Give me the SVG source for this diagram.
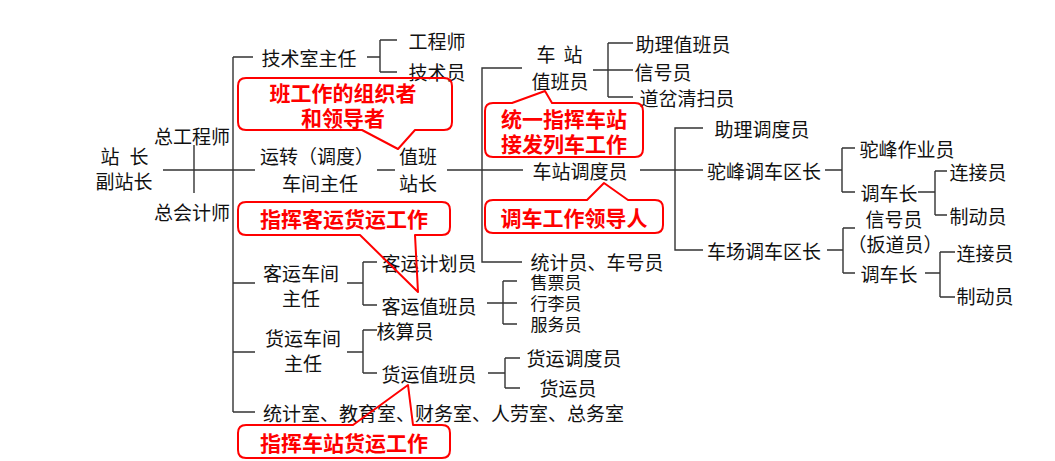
<svg xmlns="http://www.w3.org/2000/svg" width="1055" height="461" viewBox="0 0 1055 461">
<style>
.t{font-family:"Noto Sans CJK SC","Noto Sans",sans-serif;font-size:19px;fill:#111;text-anchor:middle;dominant-baseline:central}
.s{text-anchor:start}
.k{font-size:17px}
.r{font-family:"Noto Sans CJK SC","Noto Sans",sans-serif;font-size:21px;font-weight:bold;fill:#ff0000;text-anchor:middle;dominant-baseline:central}
.c{fill:none;stroke:#ff0000;stroke-width:2;stroke-linejoin:round}
.l{fill:none;stroke:#333;stroke-width:1.4}
</style>
<rect width="1055" height="461" fill="#fff"/>
<g id="connectors" class="l">
<path d="M163,170H255M377,170H395M447,170H523M640,170H703"/>
<path d="M194,145V193"/>
<path d="M233,57V412M233,57H253M233,283H255M233,352H255M233,412H255"/>
<path d="M367,57H380M380,40V72M380,40H397M380,72H397"/>
<path d="M522,68H482V262H522"/>
<path d="M593,70H633M608,43V97M608,43H633M608,97H633"/>
<path d="M703,128H675V250H703"/>
<path d="M825,170H842M842,148V192M842,148H855M842,192H855"/>
<path d="M918,192H935M935,171V215M935,171H947M935,215H947"/>
<path d="M827,250H843M843,228V273M843,228H855M843,273H855"/>
<path d="M925,273H940M940,252V297M940,252H955M940,297H955"/>
<path d="M347,283H363M363,262V305M363,262H377M363,305H377"/>
<path d="M487,303H517M503,281V324M503,281H517M503,324H517"/>
<path d="M347,352H363M363,330V373M363,330H377M363,373H377"/>
<path d="M488,373H505M505,358V388M505,358H520M505,388H520"/>
</g>
<g id="n-zhanzhang"><text class="t" y="155"><tspan x="110">站</tspan><tspan x="139">长</tspan></text><text class="t" x="124" y="180">副站长</text></g>
<g id="n-zonggong"><text class="t" x="192" y="135">总工程师</text></g>
<g id="n-zongkuai"><text class="t" x="192" y="211">总会计师</text></g>
<g id="n-jishushi"><text class="t" x="309" y="57">技术室主任</text></g>
<g id="n-gcs"><text class="t" x="437" y="40">工程师</text></g>
<g id="n-jsy"><text class="t" x="437" y="71">技术员</text></g>
<g id="n-yunzhuan"><text class="t" x="317" y="155">运转（调度）</text><text class="t" x="320" y="182">车间主任</text></g>
<g id="n-zhibanzz"><text class="t" x="418" y="155">值班</text><text class="t" x="418" y="182">站长</text></g>
<g id="n-czzby"><text class="t" y="53"><tspan x="546">车</tspan><tspan x="573">站</tspan></text><text class="t" x="560" y="80">值班员</text></g>
<g id="n-zlzby"><text class="t" x="683" y="43">助理值班员</text></g>
<g id="n-xhy1"><text class="t" x="663" y="71">信号员</text></g>
<g id="n-dcqsy"><text class="t" x="687" y="97">道岔清扫员</text></g>
<g id="n-czddy"><text class="t" x="580" y="170">车站调度员</text></g>
<g id="n-tjy"><text class="t" x="597" y="261">统计员、车号员</text></g>
<g id="n-zlddy"><text class="t" x="762" y="128">助理调度员</text></g>
<g id="n-tfdc"><text class="t" x="764" y="170">驼峰调车区长</text></g>
<g id="n-tfzyy"><text class="t" x="907" y="148">驼峰作业员</text></g>
<g id="n-dcz1"><text class="t" x="889" y="192">调车长</text></g>
<g id="n-ljy1"><text class="t" x="978" y="171">连接员</text></g>
<g id="n-zdy1"><text class="t" x="978" y="215">制动员</text></g>
<g id="n-ccdc"><text class="t" x="764" y="250">车场调车区长</text></g>
<g id="n-xhy2"><text class="t" x="894" y="218">信号员</text><text class="t" x="895" y="243">（扳道员）</text></g>
<g id="n-dcz2"><text class="t" x="889" y="273">调车长</text></g>
<g id="n-ljy2"><text class="t" x="985" y="252">连接员</text></g>
<g id="n-zdy2"><text class="t" x="985" y="295">制动员</text></g>
<g id="n-kycj"><text class="t" x="301" y="272">客运车间</text><text class="t" x="301" y="297">主任</text></g>
<g id="n-kyjhy"><text class="t" x="429" y="262">客运计划员</text></g>
<g id="n-kyzby"><text class="t" x="429" y="305">客运值班员</text></g>
<g id="n-spy"><text class="t k" x="556" y="281">售票员</text></g>
<g id="n-xly"><text class="t k" x="556" y="302">行李员</text></g>
<g id="n-fwy"><text class="t k" x="556" y="323">服务员</text></g>
<g id="n-hycj"><text class="t" x="303" y="337">货运车间</text><text class="t" x="303" y="362">主任</text></g>
<g id="n-hsy"><text class="t" x="405" y="330">核算员</text></g>
<g id="n-hyzby"><text class="t" x="429" y="373">货运值班员</text></g>
<g id="n-hyddy"><text class="t" x="574" y="357">货运调度员</text></g>
<g id="n-hyy"><text class="t" x="568" y="387">货运员</text></g>
<g id="n-shi"><text class="t s" x="263" y="412">统计室、教育室、财务室、人劳室、总务室</text></g>
<g id="callout1"><path class="c" d="M246,78H444Q452,78 452,86V122Q452,130 444,130H415L398,149L362,130H246Q238,130 238,122V86Q238,78 246,78Z"/><text class="r" x="343" y="92">班工作的组织者</text><text class="r" x="343" y="117">和领导者</text></g>
<g id="callout2"><path class="c" d="M493,103H512L545,91L552,103H635Q643,103 643,111V149Q643,157 635,157H493Q485,157 485,149V111Q485,103 493,103Z"/><text class="r" x="564" y="118">统一指挥车站</text><text class="r" x="564" y="143">接发列车工作</text></g>
<g id="callout3"><path class="c" d="M493,200H587L604,183L628,200H655Q663,200 663,208V225Q663,233 655,233H493Q485,233 485,225V208Q485,200 493,200Z"/><text class="r" x="574" y="217">调车工作领导人</text></g>
<g id="callout4"><path class="c" d="M246,202H442Q450,202 450,210V227Q450,235 442,235H415L418,292L360,235H246Q238,235 238,227V210Q238,202 246,202Z"/><text class="r" x="344" y="218">指挥客运货运工作</text></g>
<g id="callout5"><path class="c" d="M246,425H353L408,385L413,425H442Q450,425 450,433V450Q450,458 442,458H246Q238,458 238,450V433Q238,425 246,425Z"/><text class="r" x="344" y="442">指挥车站货运工作</text></g>
</svg>
